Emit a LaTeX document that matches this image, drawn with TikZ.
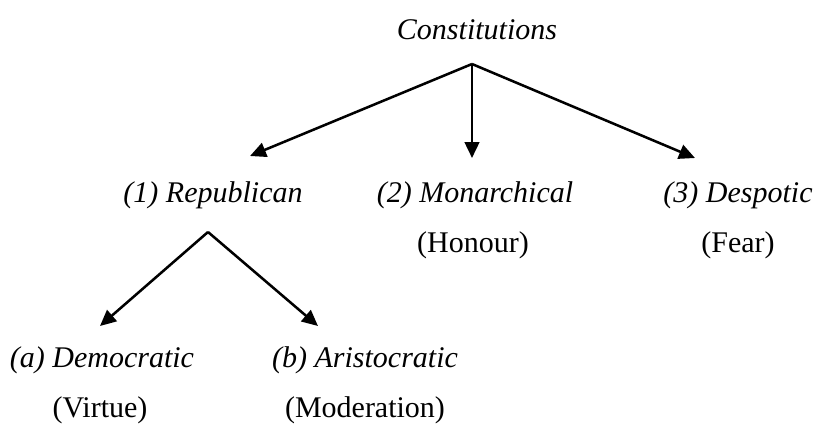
\documentclass[tikz,border=0pt]{standalone}
\usepackage{fontspec}
\setmainfont{Liberation Serif}
\usetikzlibrary{arrows.meta}
\begin{document}
\begin{tikzpicture}[x=0.75pt, y=-0.75pt, line width=1.9pt,
    label/.style = {font=\fontsize{22.5}{27}\selectfont\itshape, inner sep=0pt},
    virtue/.style = {font=\fontsize{22.5}{27}\selectfont, inner sep=0pt},
    arr/.style = {-{Triangle[length=12pt, width=11pt]}}]

		\useasboundingbox (0,0) rectangle (821,426);

		\node[label] (C) at (477,30) {Constitutions};
		\node[label] (R) at (213,195) {(1) Republican};
		\node[label] (M) at (475,195) {(2) Monarchical};
		\node[label] (D) at (738,195) {(3) Despotic};
		\node[virtue] (MH) at (473,245) {(Honour)};
		\node[virtue] (DF) at (738,245) {(Fear)};
		\node[label] (RA) at (102,360) {(a) Democratic};
		\node[label] (RB) at (365,360) {(b) Aristocratic};
		\node[virtue] (RAV) at (100,410) {(Virtue)};
		\node[virtue] (RBV) at (365,410) {(Moderation)};

		\coordinate (top) at (472,64);
		\coordinate (toR) at (250,156);
		\coordinate (toM) at (472,158);
		\coordinate (toD) at (695,158);
		\coordinate (rtop) at (208,232);
		\coordinate (toRA) at (100,326);
		\coordinate (toRB) at (318,326);

		\draw[arr] (top) to (toR);
		\draw[arr] (top) to (toM);
		\draw[arr] (top) to (toD);
		\draw[arr] (rtop) to (toRA);
		\draw[arr] (rtop) to (toRB);
	\end{tikzpicture}
\end{document}
